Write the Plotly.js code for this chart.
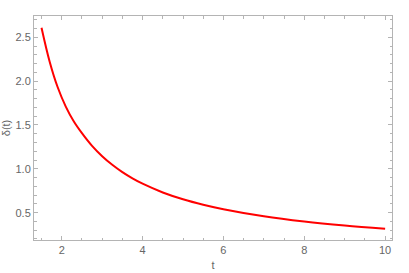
<!DOCTYPE html>
<html><head><meta charset="utf-8">
<script src="https://cdn.plot.ly/plotly-3.0.1.min.js"></script>
<style>html,body{margin:0;padding:0;background:#fff;}#chart{width:409px;height:273px;}</style>
</head><body><div id="chart"></div>
<script>
const tValues = [1.5, 1.7, 1.9, 2.1, 2.3, 2.5, 2.75, 3.0, 3.25, 3.5, 3.75, 4.0, 4.5, 5.0, 5.5, 6.0, 7.0, 8.0, 9.0, 10.0];
const deltaValues = [2.61, 2.225, 1.93, 1.71, 1.54, 1.407, 1.262, 1.144, 1.046, 0.962, 0.891, 0.830, 0.730, 0.652, 0.590, 0.539, 0.458, 0.398, 0.352, 0.315];
const xTickVals = [2, 4, 6, 8, 10];
const yTickVals = [0.5, 1.0, 1.5, 2.0, 2.5];
const yTickText = ['0.5', '1.0', '1.5', '2.0', '2.5'];

const axisCol = '#b4b4b4';
const fontCol = '#666666';
const common = {
  showgrid: false, zeroline: false, showline: true, linecolor: axisCol, linewidth: 1,
  mirror: 'ticks', ticks: 'inside', ticklen: 4, tickcolor: axisCol, tickwidth: 1,
  tickfont: {family: 'Liberation Sans, Arial, sans-serif', size: 11, color: fontCol}
};
Plotly.newPlot('chart', [{
  x: tValues, y: deltaValues, type: 'scatter', mode: 'lines',
  line: {color: '#ff0000', width: 2, shape: 'spline', smoothing: 1}
}], {
  width: 409, height: 273,
  margin: {l: 34, r: 17, t: 16, b: 33},
  paper_bgcolor: '#fff', plot_bgcolor: '#fff', showlegend: false,
  xaxis: Object.assign({}, common, {
    range: [1.314, 10.17], tickvals: xTickVals,
    minor: {dtick: 0.5, tick0: 0, ticks: 'inside', ticklen: 2.5, tickcolor: axisCol},
    title: {text: 't', font: {family: 'Liberation Sans, Arial, sans-serif', size: 11, color: fontCol}, standoff: 6}
  }),
  yaxis: Object.assign({}, common, {
    range: [0.188, 2.743], tickvals: yTickVals, ticktext: yTickText,
    minor: {dtick: 0.1, tick0: 0, ticks: 'inside', ticklen: 2.5, tickcolor: axisCol},
    title: {text: 'δ(t)', font: {family: 'Liberation Sans, Arial, sans-serif', size: 11, color: fontCol}, standoff: 4}
  })
}, {displayModeBar: false, staticPlot: true});
</script></body></html>
